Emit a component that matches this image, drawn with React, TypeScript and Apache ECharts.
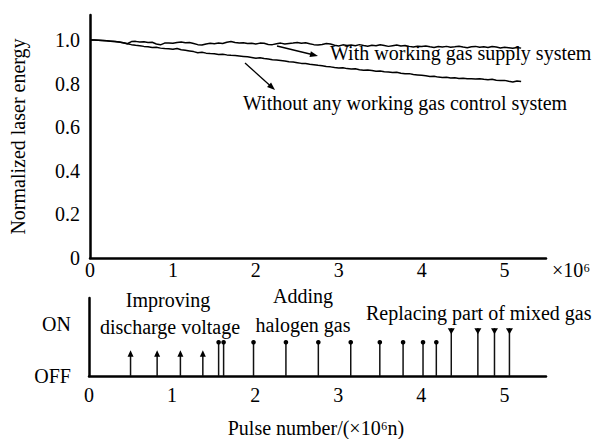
import React, { useEffect, useRef } from "react";
import * as echarts from "echarts";

// ---- data ----
const withSupplyX = [0, 0.05, 0.1, 0.15, 0.2, 0.25, 0.3, 0.35, 0.4, 0.45, 0.5, 0.55, 0.6, 0.65, 0.7, 0.75, 0.8, 0.85, 0.9, 0.95, 1.0, 1.05, 1.1, 1.15, 1.2, 1.25, 1.3, 1.35, 1.4, 1.45, 1.5, 1.55, 1.6, 1.65, 1.7, 1.75, 1.8, 1.85, 1.9, 1.95, 2.0, 2.05, 2.1, 2.15, 2.2, 2.25, 2.3, 2.35, 2.4, 2.45, 2.5, 2.55, 2.6, 2.65, 2.7, 2.75, 2.8, 2.85, 2.9, 2.95, 3.0, 3.05, 3.1, 3.15, 3.2, 3.25, 3.3, 3.35, 3.4, 3.45, 3.5, 3.55, 3.6, 3.65, 3.7, 3.75, 3.8, 3.85, 3.9, 3.95, 4.0, 4.05, 4.1, 4.15, 4.2, 4.25, 4.3, 4.35, 4.4, 4.45, 4.5, 4.55, 4.6, 4.65, 4.7, 4.75, 4.8, 4.85, 4.9, 4.95, 5.0, 5.05, 5.1, 5.15, 5.2];
const withSupplyY = [1.0, 1.0, 0.999, 0.998, 0.997, 0.995, 0.993, 0.991, 0.988, 0.983, 0.993, 0.994, 0.991, 0.992, 0.989, 0.99, 0.982, 0.978, 0.986, 0.987, 0.985, 0.989, 0.991, 0.988, 0.989, 0.984, 0.979, 0.977, 0.982, 0.985, 0.983, 0.986, 0.984, 0.99, 0.993, 0.989, 0.986, 0.988, 0.984, 0.985, 0.982, 0.986, 0.985, 0.98, 0.979, 0.983, 0.986, 0.982, 0.984, 0.986, 0.989, 0.985, 0.988, 0.983, 0.979, 0.977, 0.98, 0.984, 0.982, 0.976, 0.973, 0.978, 0.975, 0.977, 0.974, 0.979, 0.975, 0.972, 0.976, 0.974, 0.978, 0.975, 0.971, 0.974, 0.977, 0.973, 0.975, 0.971, 0.968, 0.972, 0.97, 0.973, 0.969, 0.966, 0.97, 0.968, 0.971, 0.967, 0.969, 0.972, 0.968, 0.965, 0.969, 0.971, 0.967, 0.969, 0.966, 0.97, 0.968, 0.964, 0.967, 0.965, 0.962, 0.966, 0.963];

const withoutX = withSupplyX;
const withoutY = [1.0, 1.0, 0.999, 0.998, 0.997, 0.995, 0.993, 0.991, 0.988, 0.983, 0.979, 0.976, 0.974, 0.971, 0.969, 0.966, 0.967, 0.963, 0.961, 0.96, 0.958, 0.961, 0.956, 0.953, 0.95, 0.947, 0.942, 0.944, 0.94, 0.938, 0.937, 0.934, 0.935, 0.932, 0.93, 0.929, 0.927, 0.925, 0.923, 0.92, 0.917, 0.919, 0.915, 0.913, 0.91, 0.908, 0.906, 0.904, 0.901, 0.899, 0.896, 0.893, 0.892, 0.889, 0.887, 0.884, 0.882, 0.879, 0.877, 0.874, 0.872, 0.873, 0.869, 0.867, 0.868, 0.864, 0.862, 0.863, 0.86, 0.857, 0.858, 0.855, 0.853, 0.851, 0.852, 0.848, 0.845, 0.846, 0.842, 0.84, 0.838, 0.836, 0.833, 0.834, 0.83, 0.828, 0.829, 0.826, 0.827, 0.824, 0.825, 0.822, 0.823, 0.821, 0.823, 0.82, 0.818, 0.82, 0.816, 0.814, 0.815, 0.811, 0.808, 0.812, 0.81];

// control events (pulse number, ×10^6)
const voltageEvents = [0.5, 0.82, 1.1, 1.37];
const halogenEvents = [1.56, 1.62, 1.98, 2.37, 2.76, 3.15, 3.5, 3.78, 4.02, 4.18];
const replaceEvents = [4.36, 4.68, 4.88, 5.06];
const voltageLevel = 0.42;
const halogenLevel = 0.65;
const replaceLevel = 0.92;

const xTicks = [0, 1, 2, 3, 4, 5];
const yTicks = [0, 0.2, 0.4, 0.6, 0.8, 1.0];

const FONT = "Liberation Serif";

export default function App() {
  const ref = useRef<HTMLDivElement>(null);
  useEffect(() => {
    if (!ref.current) return;
    const chart = echarts.init(ref.current, undefined, { renderer: "svg" });

    const axisLine = { lineStyle: { color: "#000", width: 2.5 } };
    const labelBase = { color: "#000", fontFamily: FONT, fontSize: 20 };

    const eventData = [
      ...voltageEvents.map((x) => [x, voltageLevel, 0]),
      ...halogenEvents.map((x) => [x, halogenLevel, 1]),
      ...replaceEvents.map((x) => [x, replaceLevel, 2]),
    ];

    const t = (text: string, x: number, y: number, align = "left") => ({
      type: "text",
      x,
      y,
      style: {
        text,
        fill: "#000",
        font: `20px ${FONT}`,
        textAlign: align,
        textVerticalAlign: "middle",
      },
    });

    const option: any = {
      animation: false,
      textStyle: { fontFamily: FONT },
      grid: [
        { left: 89, top: 15, width: 457, height: 243 },
        { left: 89, top: 298, width: 457, height: 78 },
      ],
      xAxis: [
        {
          gridIndex: 0,
          type: "value",
          min: 0,
          max: 5.5,
          interval: 1,
          axisLine,
          axisTick: { show: false },
          splitLine: { show: false },
          axisLabel: {
            ...labelBase,
            margin: 2,
            formatter: (v: number) => (xTicks.includes(v) ? String(v) : ""),
          },
        },
        {
          gridIndex: 1,
          type: "value",
          min: 0,
          max: 5.5,
          interval: 1,
          axisLine,
          axisTick: { show: false },
          splitLine: { show: false },
          axisLabel: {
            ...labelBase,
            margin: 9,
            formatter: (v: number) => (xTicks.includes(v) ? String(v) : ""),
          },
        },
      ],
      yAxis: [
        {
          gridIndex: 0,
          type: "value",
          min: 0,
          max: 1.115,
          interval: 0.2,
          axisLine,
          axisTick: { show: false },
          splitLine: { show: false },
          name: "Normalized laser energy",
          nameLocation: "middle",
          nameGap: 62,
          nameTextStyle: { ...labelBase },
          axisLabel: {
            ...labelBase,
            margin: 10,
            formatter: (v: number) => {
              const hit = yTicks.find((tk) => Math.abs(tk - v) < 1e-6);
              if (hit === undefined) return "";
              return hit === 0 ? "0" : hit.toFixed(1);
            },
          },
        },
        {
          gridIndex: 1,
          type: "value",
          min: 0,
          max: 1.5,
          interval: 0.5,
          axisLine,
          axisTick: { show: false },
          splitLine: { show: false },
          axisLabel: {
            ...labelBase,
            margin: 18,
            formatter: (v: number) => (v === 0 ? "OFF" : v === 1 ? "ON" : ""),
          },
        },
      ],
      series: [
        {
          type: "line",
          name: "With working gas supply system",
          xAxisIndex: 0,
          yAxisIndex: 0,
          showSymbol: false,
          data: withSupplyX.map((x, i) => [x, withSupplyY[i]]),
          lineStyle: { color: "#000", width: 1.5 },
        },
        {
          type: "line",
          name: "Without any working gas control system",
          xAxisIndex: 0,
          yAxisIndex: 0,
          showSymbol: false,
          data: withoutX.map((x, i) => [x, withoutY[i]]),
          lineStyle: { color: "#000", width: 1.5 },
        },
        {
          type: "custom",
          xAxisIndex: 1,
          yAxisIndex: 1,
          data: eventData,
          renderItem: (params: any, api: any) => {
            const x = api.value(0);
            const h = api.value(1);
            const kind = api.value(2);
            const top = api.coord([x, h]);
            const base = api.coord([x, 0]);
            const children: any[] = [
              {
                type: "line",
                shape: { x1: top[0], y1: base[1], x2: top[0], y2: top[1] },
                style: { stroke: "#111", lineWidth: 1.5 },
              },
            ];
            if (kind === 0) {
              children.push({
                type: "polygon",
                shape: {
                  points: [
                    [top[0], top[1] - 4],
                    [top[0] - 3, top[1] + 2.5],
                    [top[0] + 3, top[1] + 2.5],
                  ],
                },
                style: { fill: "#000" },
              });
            } else if (kind === 1) {
              children.push({
                type: "circle",
                shape: { cx: top[0], cy: top[1], r: 2.3 },
                style: { fill: "#000" },
              });
            } else {
              children.push({
                type: "polygon",
                shape: {
                  points: [
                    [top[0] - 3.5, top[1]],
                    [top[0] + 3.5, top[1]],
                    [top[0], top[1] + 6],
                  ],
                },
                style: { fill: "#000" },
              });
            }
            return { type: "group", children };
          },
        },
      ],
      graphic: [
        t("×10⁶", 552, 270),
        t("With working gas supply system", 330, 53),
        t("Without any working gas control system", 243, 103),
        t("Improving", 168, 300, "center"),
        t("discharge voltage", 170, 327, "center"),
        t("Adding", 303, 296, "center"),
        t("halogen gas", 303, 325, "center"),
        t("Replacing part of mixed gas", 366, 313),
        t("Pulse number/(×10⁶n)", 316, 428, "center"),
        {
          type: "line",
          shape: { x1: 277, y1: 46, x2: 312, y2: 54.5 },
          style: { stroke: "#000", lineWidth: 1.3 },
        },
        {
          type: "polygon",
          shape: { points: [[318, 56], [309.5, 57.0], [310.9, 51.2]] },
          style: { fill: "#000" },
        },
        {
          type: "line",
          shape: { x1: 245, y1: 63, x2: 270, y2: 85.5 },
          style: { stroke: "#000", lineWidth: 1.3 },
        },
        {
          type: "polygon",
          shape: { points: [[275, 90], [267.06, 86.88], [271.06, 82.42]] },
          style: { fill: "#000" },
        },
      ],
    };

    chart.setOption(option);
    return () => chart.dispose();
  }, []);

  return (
    <div
      ref={ref}
      style={{ position: "fixed", left: 0, top: 0, width: 608, height: 439, background: "#fff" }}
    />
  );
}
